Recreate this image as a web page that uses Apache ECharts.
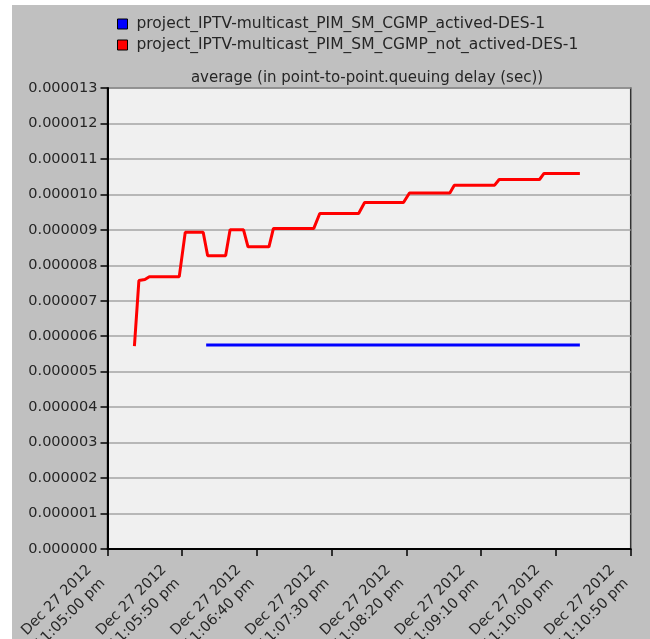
<!DOCTYPE html>
<html>
<head>
<meta charset="utf-8">
<script src="https://cdn.jsdelivr.net/npm/echarts@6/dist/echarts.min.js"></script>
<style>
	html, body { margin: 0; padding: 0; background: #ffffff; }
	#chart { position: absolute; left: 12px; top: 5px; width: 638px; height: 634px; background: #c0c0c0; }
</style>
</head>
<body>
<div id="chart"></div>
<script>
// seconds after 11:05:00 pm, Dec 27 2012
var baseHour = 11, baseMinute = 5;
var seriesNames = [
	'project_IPTV-multicast_PIM_SM_CGMP_actived-DES-1',
	'project_IPTV-multicast_PIM_SM_CGMP_not_actived-DES-1'
];
var seriesColors = ['#0000ff', '#ff0000'];
var titleText = 'average (in point-to-point.queuing delay (sec))';

var activedTimes = [66, 316];
var activedValues = [0.00000575, 0.00000575];

var notActivedTimes = [18, 21, 25, 28, 48, 52, 64, 67, 79, 82, 91, 94, 108, 111, 138, 142, 168, 172, 198, 202, 229, 232, 259, 262, 289, 292, 316];
var notActivedValues = [
	0.00000572, 0.00000757, 0.00000760, 0.00000768, 0.00000768, 0.00000893, 0.00000893,
	0.00000827, 0.00000827, 0.00000900, 0.00000900, 0.00000852, 0.00000852, 0.00000904,
	0.00000904, 0.00000946, 0.00000946, 0.00000977, 0.00000977, 0.00001004, 0.00001004,
	0.00001026, 0.00001026, 0.00001042, 0.00001042, 0.00001059, 0.00001059
];

function pairUp(times, values) {
	var out = [];
	for (var i = 0; i < times.length; i++) {
		out.push([times[i], values[i]]);
	}
	return out;
}

function pad(n) {
	return n < 10 ? '0' + n : '' + n;
}

function timeLabel(sec) {
	var total = baseHour * 3600 + baseMinute * 60 + Math.round(sec);
	var h = Math.floor(total / 3600);
	var m = Math.floor((total % 3600) / 60);
	var s = total % 60;
	return 'Dec 27 2012\n' + h + ':' + pad(m) + ':' + pad(s) + ' pm';
}

var myChart = echarts.init(document.getElementById('chart'));
var textColor = '#262626';
var fontName = 'DejaVu Sans';

var option = {
	animation: false,
	textStyle: { fontFamily: fontName },
	title: {
		text: titleText,
		left: 350,
		top: 61,
		textAlign: 'center',
		textStyle: { fontSize: 15, fontWeight: 'normal', color: textColor, fontFamily: fontName }
	},
	legend: {
		orient: 'vertical',
		left: 100,
		top: 6,
		icon: 'rect',
		itemWidth: 10,
		itemHeight: 10,
		itemGap: 5,
		itemStyle: { borderColor: '#000000', borderWidth: 1 },
		textStyle: { fontSize: 15.5, color: textColor, fontFamily: fontName, padding: [0, 0, 0, 4] },
		data: seriesNames
	},
	grid: {
		left: 95.5,
		right: 19.3,
		top: 83,
		bottom: 90,
		containLabel: false,
		outerBoundsMode: 'none',
		show: true,
		backgroundColor: '#f0f0f0',
		borderColor: '#333333',
		borderWidth: 1.5
	},
	xAxis: {
		type: 'value',
		min: 0,
		max: 350,
		interval: 50,
		axisLine: { lineStyle: { color: '#000000', width: 2 } },
		axisTick: { length: 7, lineStyle: { color: '#000000', width: 1.5 } },
		splitLine: { show: false },
		axisLabel: {
			rotate: 45,
			margin: 14,
			padding: [0, 16, 0, 0],
			fontSize: 14.5,
			lineHeight: 19,
			color: textColor,
			fontFamily: fontName,
			formatter: timeLabel
		}
	},
	yAxis: {
		type: 'value',
		min: 0,
		max: 0.000013,
		interval: 0.000001,
		axisLine: { show: true, lineStyle: { color: '#000000', width: 2 } },
		axisTick: { show: true, length: 7, lineStyle: { color: '#000000', width: 1.5 } },
		splitLine: { lineStyle: { color: '#a4a4a4', width: 1.5 } },
		axisLabel: {
			margin: 10,
			fontSize: 14.5,
			color: textColor,
			fontFamily: fontName,
			formatter: function (v) { return v.toFixed(6); }
		}
	},
	series: [
		{
			name: seriesNames[0],
			type: 'line',
			showSymbol: false,
			lineStyle: { color: seriesColors[0], width: 3 },
			itemStyle: { color: seriesColors[0] },
			data: pairUp(activedTimes, activedValues)
		},
		{
			name: seriesNames[1],
			type: 'line',
			showSymbol: false,
			lineStyle: { color: seriesColors[1], width: 3 },
			itemStyle: { color: seriesColors[1] },
			data: pairUp(notActivedTimes, notActivedValues)
		}
	]
};

if (option && typeof option === "object") {
	myChart.setOption(option, true);
}
</script>
</body>
</html>
